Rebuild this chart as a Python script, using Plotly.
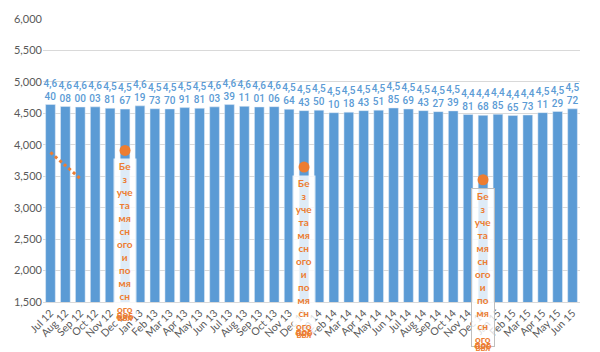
import plotly.graph_objects as go

months = ["Jul 12","Aug 12","Sep 12","Oct 12","Nov 12","Dec 12","Jan 13","Feb 13","Mar 13","Apr 13","May 13","Jun 13",
          "Jul 13","Aug 13","Sep 13","Oct 13","Nov 13","Dec 13","Jan 14","Feb 14","Mar 14","Apr 14","May 14","Jun 14",
          "Jul 14","Aug 14","Sep 14","Oct 14","Nov 14","Dec 14","Jan 15","Feb 15","Mar 15","Apr 15","May 15","Jun 15"]
values = [4640,4608,4600,4603,4581,4567,4619,4573,4570,4591,4581,4603,
          4639,4611,4601,4606,4564,4543,4550,4510,4518,4543,4551,4585,
          4569,4543,4527,4539,4481,4468,4485,4465,4473,4511,4529,4572]

trend_x = ["Jul 12","Aug 12","Sep 12"]
trend_y = [3880,3670,3460]

dec_x = ["Dec 12","Dec 13","Dec 14"]
dec_y = [3910,3646,3444]
note_lines = ["Бе","з","уче","та","мя","сн","ого","и","по","мя","сн","ого"]
note_tail = ["пог","оло","вья"]

BLUE = "#5b9bd5"
ORANGE = "#ed7d31"
FONT = "Lato"
LABEL_FONT = "Roboto"

labels = []
for v in values:
    s = f"{v:,}"
    labels.append(f"{s[:3]}<br>{s[3:]}")

fig = go.Figure()
fig.add_trace(go.Bar(x=months, y=values, marker_color=BLUE, text=labels,
                     textposition="outside", constraintext="none", cliponaxis=False,
                     textfont=dict(color=BLUE, size=10, family=LABEL_FONT, weight=500),
                     hoverinfo="skip"))
fig.add_trace(go.Scatter(x=trend_x, y=trend_y, mode="lines",
                         line=dict(color=ORANGE, width=3, dash="dot"), hoverinfo="skip"))
fig.add_trace(go.Scatter(x=dec_x, y=dec_y, mode="markers",
                         marker=dict(color=ORANGE, size=11), hoverinfo="skip"))

wrapped = "<br>".join(note_lines)
for i, (x, y) in enumerate(zip(dec_x, dec_y)):
    fig.add_annotation(x=x, y=y, text=f"<b>{wrapped}</b>", showarrow=False,
                       yanchor="top", yshift=-8, width=20,
                       font=dict(color=ORANGE, size=10, family=FONT),
                       bgcolor="rgba(255,255,255,0.8)",
                       bordercolor="#bfbfbf" if i == 2 else "rgba(0,0,0,0)", borderwidth=1,
                       borderpad=1)
    for k, t in enumerate(note_tail):
        fig.add_annotation(x=x, y=y, text=f"<b>{t}</b>", showarrow=False,
                           yanchor="top", yshift=-8 - 12.9 * 11 - 6 - k * 1.5, width=20,
                           font=dict(color=ORANGE, size=10, family=FONT))

fig.update_layout(
    width=600, height=352, margin=dict(l=43, r=20, t=13, b=50),
    paper_bgcolor="white", plot_bgcolor="white", showlegend=False,
    bargap=0.35, font=dict(family=FONT, color="#595959"),
)
fig.update_xaxes(type="category", tickangle=-45, tickfont=dict(size=10.5, color="#595959"),
                 showline=True, linecolor="#d9d9d9", linewidth=1, ticks="", showgrid=False)
fig.update_yaxes(range=[1500, 6000], dtick=500, tickformat=",", showgrid=True,
                 gridcolor="#d9d9d9", gridwidth=1, zeroline=False, showline=False,
                 tickfont=dict(size=11, color="#595959"))
fig.write_html("out.html")
